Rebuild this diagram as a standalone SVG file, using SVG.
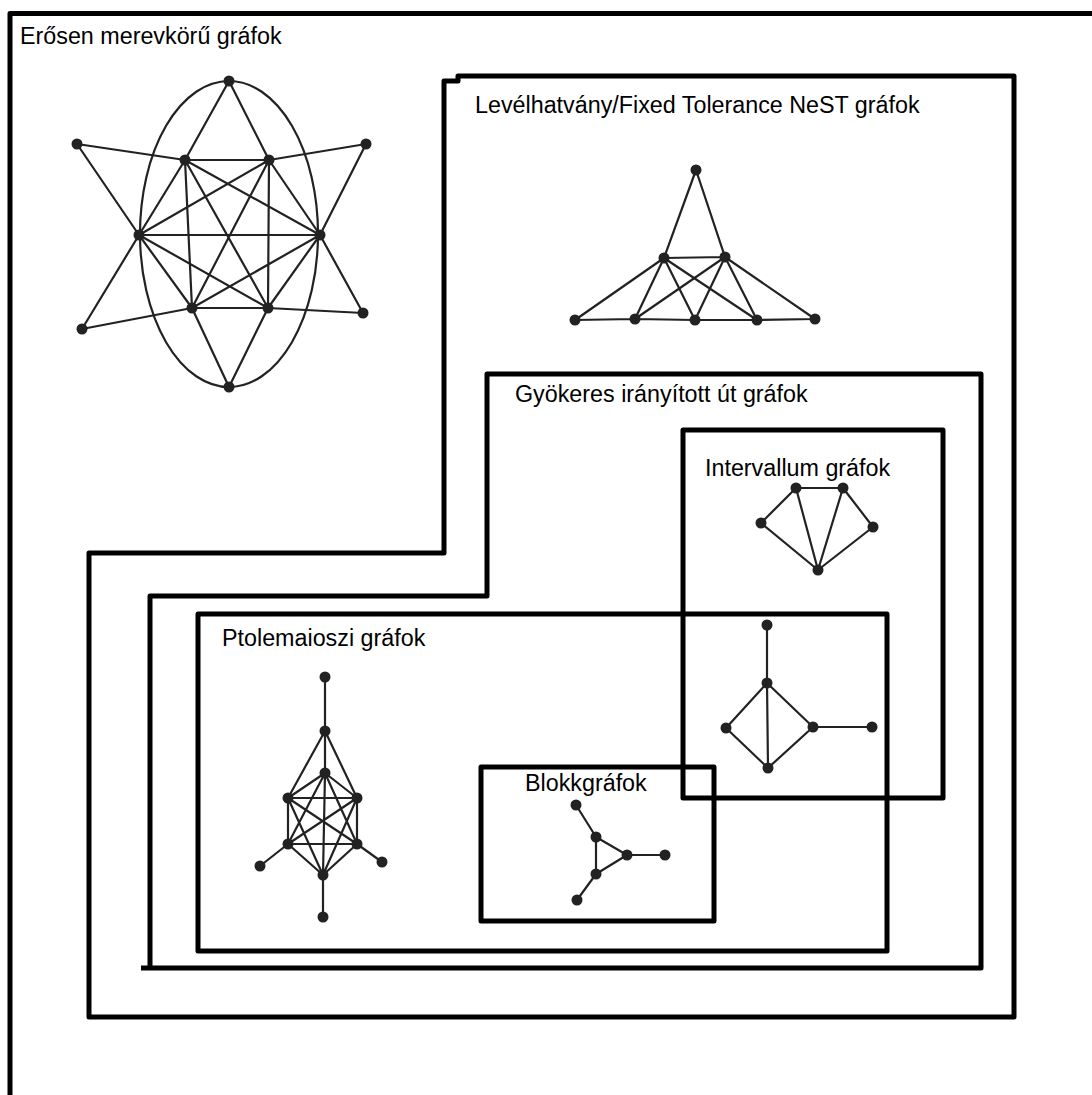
<svg xmlns="http://www.w3.org/2000/svg" width="1092" height="1095" viewBox="0 0 1092 1095">
<style>
.box{fill:none;stroke:#000;stroke-width:5;stroke-linejoin:round}
.e{stroke:#222;stroke-width:2.2;fill:none}
.n{fill:#222}
.t{font-family:"Liberation Sans",Arial,sans-serif;font-size:23.3px;fill:#000}
</style>
<rect width="1092" height="1095" fill="#fff"/>
<g id="boxes">
<path id="box-eros" class="box" d="M10,1100 V13.5 H1100"/>
<path id="box-level" class="box" d="M444,553 V81 H458 V76 H1014 V1017 H89 V553 Z"/>
<path id="box-gyok" class="box" d="M141,968 H981 V374 H487 V596 H150 V968"/>
<rect id="box-ptol" class="box" x="198" y="614" width="689" height="337"/>
<rect id="box-int" class="box" x="683" y="430" width="260" height="368"/>
<rect id="box-blokk" class="box" x="481" y="767" width="233" height="154"/>
</g>
<g id="labels">
<text class="t" x="20" y="44">Erősen merevkörű gráfok</text>
<text class="t" x="475" y="113">Levélhatvány/Fixed Tolerance NeST gráfok</text>
<text class="t" x="515" y="402">Gyökeres irányított út gráfok</text>
<text class="t" x="705" y="476">Intervallum gráfok</text>
<text class="t" x="222" y="646">Ptolemaioszi gráfok</text>
<text class="t" x="525" y="791">Blokkgráfok</text>
</g>
<g id="connectors">
<ellipse class="e" cx="229" cy="234" rx="89" ry="153"/>
<path class="e" d="M229,81 L185,160 M229,81 L269,160 M229,387 L192,308 M229,387 L268,308
M77,144 L185,160 M77,144 L139,235 M366,144 L269,160 M366,144 L320,235
M82,329 L139,235 M82,329 L192,308 M363,313 L320,235 M363,313 L268,308
M185,160 L269,160 M185,160 L139,235 M185,160 L320,235 M185,160 L192,308 M185,160 L268,308
M269,160 L139,235 M269,160 L320,235 M269,160 L192,308 M269,160 L268,308
M139,235 L320,235 M139,235 L192,308 M139,235 L268,308
M320,235 L192,308 M320,235 L268,308 M192,308 L268,308"/>
<path class="e" d="M696,170 L664,258 M696,170 L725,257 M664,258 L725,257
M664,258 L575,320 M664,258 L635,319 M664,258 L695,320 M664,258 L757,320
M725,257 L635,319 M725,257 L695,320 M725,257 L757,320 M725,257 L815,319
M575,320 L635,319 L695,320 L757,320 L815,319"/>
<path class="e" d="M796,488 L843,488 M761,523 L796,488 M843,488 L873,527 M761,523 L818,570 M873,527 L818,570 M796,488 L818,570 M843,488 L818,570"/>
<path class="e" d="M325,677 L325,731 M325,731 L288,798 M325,731 L357,798 M325,731 L325,773 L323,875 M325,773 L288,798 M325,773 L357,798 M325,773 L288,844 M325,773 L357,844
M288,798 L357,798 M288,798 L288,844 M357,798 L357,844 M288,844 L357,844 M288,798 L357,844 M357,798 L288,844
M288,798 L323,875 M357,798 L323,875 M288,844 L323,875 M357,844 L323,875
M288,844 L260,866 M357,844 L382,862 M323,875 L323,917"/>
<path class="e" d="M576,805 L596,837 M596,837 L627,855 M596,837 L596,874 M627,855 L596,874 M627,855 L665,855 M596,874 L577,900"/>
<path class="e" d="M767,625 L767,683 M767,683 L726,728 M767,683 L813,727 M767,683 L768,768 M726,728 L768,768 M813,727 L768,768 M813,727 L872,727"/>
</g>
<g id="nodes">
<g id="g1-nodes">
<circle class="n" cx="229" cy="81" r="5.5"/><circle class="n" cx="77" cy="144" r="5.5"/><circle class="n" cx="366" cy="144" r="5.5"/>
<circle class="n" cx="185" cy="160" r="5.5"/><circle class="n" cx="269" cy="160" r="5.5"/><circle class="n" cx="139" cy="235" r="5.5"/>
<circle class="n" cx="320" cy="235" r="5.5"/><circle class="n" cx="192" cy="308" r="5.5"/><circle class="n" cx="268" cy="308" r="5.5"/>
<circle class="n" cx="82" cy="329" r="5.5"/><circle class="n" cx="363" cy="313" r="5.5"/><circle class="n" cx="229" cy="387" r="5.5"/>
</g>
<g id="g2-nodes">
<circle class="n" cx="696" cy="170" r="5.5"/><circle class="n" cx="664" cy="258" r="5.5"/><circle class="n" cx="725" cy="257" r="5.5"/>
<circle class="n" cx="575" cy="320" r="5.5"/><circle class="n" cx="635" cy="319" r="5.5"/><circle class="n" cx="695" cy="320" r="5.5"/>
<circle class="n" cx="757" cy="320" r="5.5"/><circle class="n" cx="815" cy="319" r="5.5"/>
</g>
<g id="int-nodes">
<circle class="n" cx="796" cy="488" r="5.5"/><circle class="n" cx="843" cy="488" r="5.5"/><circle class="n" cx="761" cy="523" r="5.5"/>
<circle class="n" cx="873" cy="527" r="5.5"/><circle class="n" cx="818" cy="570" r="5.5"/>
</g>
<g id="ptol-nodes">
<circle class="n" cx="325" cy="677" r="5.5"/><circle class="n" cx="325" cy="731" r="5.5"/><circle class="n" cx="325" cy="773" r="5.5"/>
<circle class="n" cx="288" cy="798" r="5.5"/><circle class="n" cx="357" cy="798" r="5.5"/><circle class="n" cx="288" cy="844" r="5.5"/>
<circle class="n" cx="357" cy="844" r="5.5"/><circle class="n" cx="323" cy="875" r="5.5"/><circle class="n" cx="260" cy="866" r="5.5"/>
<circle class="n" cx="382" cy="862" r="5.5"/><circle class="n" cx="323" cy="917" r="5.5"/>
</g>
<g id="block-nodes">
<circle class="n" cx="576" cy="805" r="5.5"/><circle class="n" cx="596" cy="837" r="5.5"/><circle class="n" cx="627" cy="855" r="5.5"/>
<circle class="n" cx="596" cy="874" r="5.5"/><circle class="n" cx="665" cy="855" r="5.5"/><circle class="n" cx="577" cy="900" r="5.5"/>
</g>
<g id="diamond-nodes">
<circle class="n" cx="767" cy="625" r="5.5"/><circle class="n" cx="767" cy="683" r="5.5"/><circle class="n" cx="726" cy="728" r="5.5"/>
<circle class="n" cx="813" cy="727" r="5.5"/><circle class="n" cx="872" cy="727" r="5.5"/><circle class="n" cx="768" cy="768" r="5.5"/>
</g>
</g>
</svg>
